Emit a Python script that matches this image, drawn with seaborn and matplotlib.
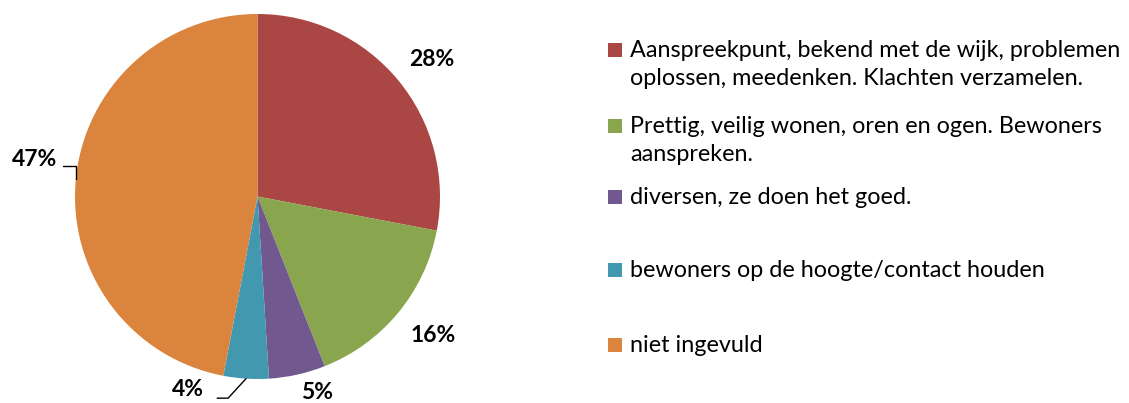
import numpy as np
import seaborn as sns
import matplotlib.pyplot as plt
from matplotlib.patches import Rectangle

# Data
categories = [
    "Aanspreekpunt, bekend met de wijk, problemen\noplossen, meedenken. Klachten verzamelen.",
    "Prettig, veilig wonen, oren en ogen. Bewoners\naanspreken.",
    "diversen, ze doen het goed.",
    "bewoners op de hoogte/contact houden",
    "niet ingevuld",
]
values = [28, 16, 5, 4, 47]
pct_labels = ["28%", "16%", "5%", "4%", "47%"]
colors = ["#AA4643", "#89A54E", "#71588F", "#4198AF", "#DB843D"]

sns.set_style("white")
plt.rcParams["font.family"] = ["Lato", "DejaVu Sans"]

W, H = 1129, 403
fig = plt.figure(figsize=(W / 100, H / 100), dpi=100)

# pie axes in pixel-consistent data units (1 unit = pie radius)
R = 182.5
cx, cy = 257.5, 196.5
ax = fig.add_axes([0, 0, 0.5, 1])
wedges, _ = ax.pie(
    values,
    colors=sns.color_palette(colors),
    startangle=90,
    counterclock=False,
    wedgeprops=dict(linewidth=0),
)
ax.set_aspect("auto")
ax.set_xlim(-cx / R, (W * 0.5 - cx) / R)
ax.set_ylim(-(H - cy) / R, cy / R)
ax.axis("off")

# label positions (data units), leader lines for the small/left ones
label_pos = [(0.956, 0.748), (0.962, -0.759), (0.326, -1.075), (-0.381, -1.055), (-1.219, 0.20)]
leaders = [False, False, False, True, True]
for w, txt, (lx, ly), lead in zip(wedges, pct_labels, label_pos, leaders):
    ax.text(lx, ly, txt, ha="center", va="center", fontsize=16.5, fontweight="bold",
            color="black", clip_on=False)
    if lead:
        ang = np.deg2rad((w.theta1 + w.theta2) / 2)
        ex, ey = np.cos(ang), np.sin(ang)
        if lx < -1:
            # horizontal then down to the edge
            hx = lx + 0.155
            hy = ly - 0.035
            ax.plot([hx, ex, ex], [hy, hy, ey], color="black", lw=1)
        else:
            hx = lx + 0.16
            hy = ly - 0.05
            ax.plot([hx, hx + 0.06, ex], [hy, hy, ey], color="black", lw=1)

# legend drawn manually (pixel layout)
legend_y = [50, 126, 197, 270, 345]
line_h = 28
for lab, col, y in zip(categories, colors, legend_y):
    fig.patches.append(Rectangle(((608) / W, 1 - (y + 7) / H), 14 / W, 14 / H,
                                 transform=fig.transFigure, facecolor=col,
                                 edgecolor="none"))
    for i, line in enumerate(lab.split("\n")):
        fig.text(630 / W, 1 - (y + 7 + i * line_h) / H, line, ha="left",
                 va="baseline", fontsize=16.8, color="black")

fig.savefig("out.png", dpi=100)
